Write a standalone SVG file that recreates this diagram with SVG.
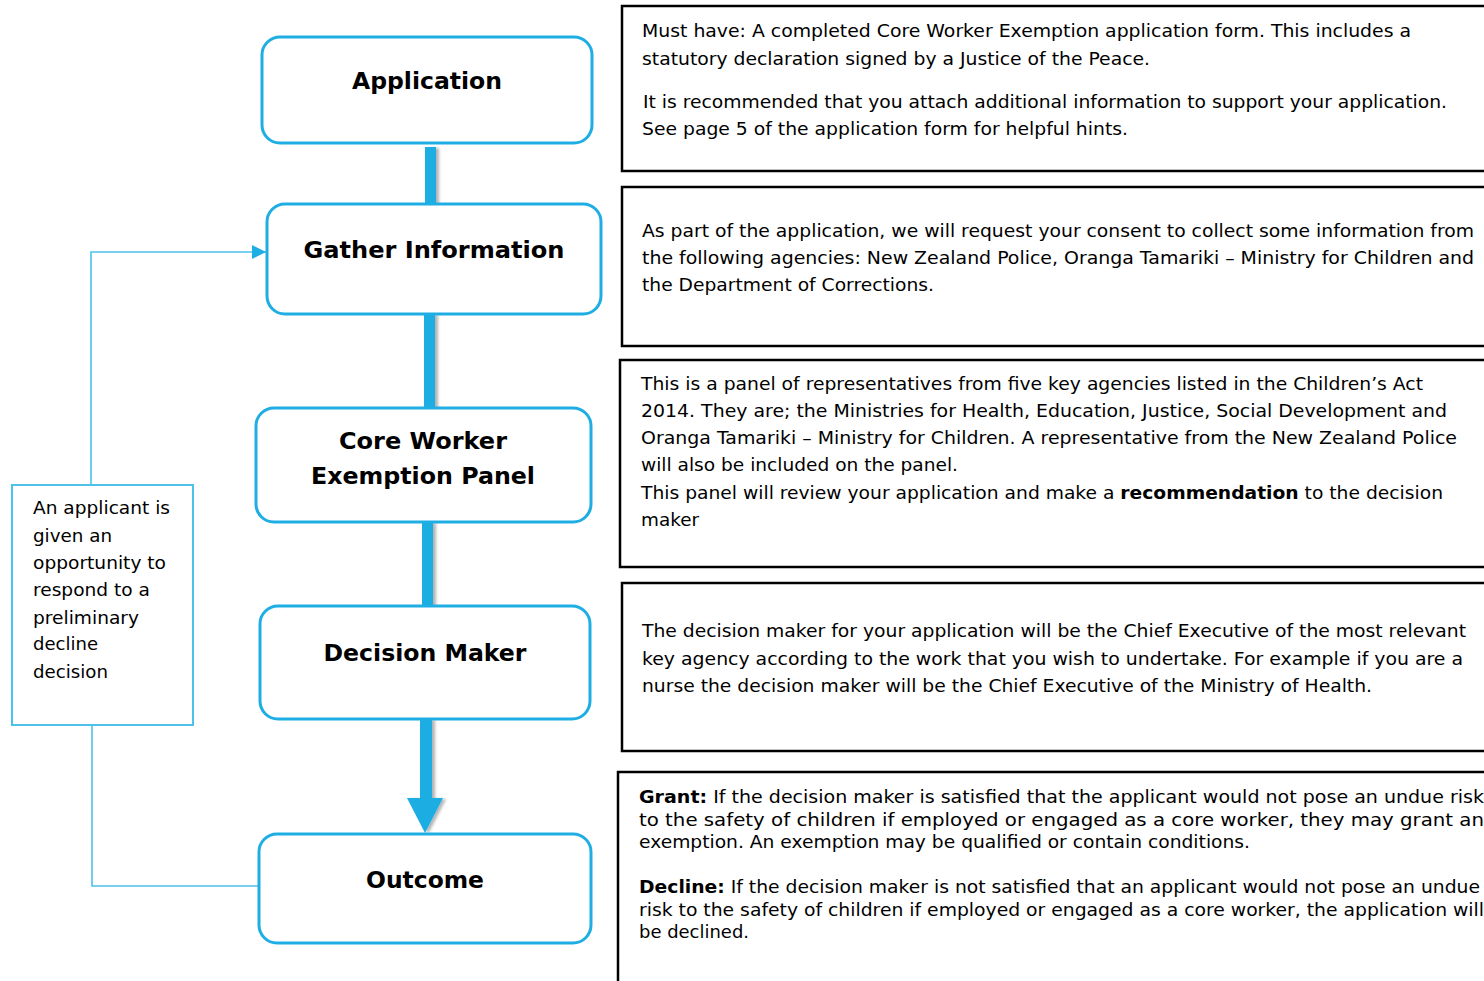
<svg xmlns="http://www.w3.org/2000/svg" width="1484" height="981" viewBox="0 0 1484 981">
<style>
.node{fill:#fff;stroke:#1EAEE3;stroke-width:3}
.title{font-family:"DejaVu Sans","Liberation Sans",sans-serif;font-weight:bold;font-size:23px;fill:#000;text-anchor:middle}
.info{fill:#fff;stroke:#000;stroke-width:2.5}
.t{font-family:"DejaVu Sans","Liberation Sans",sans-serif;font-size:17px;fill:#000}
.b{font-weight:bold}
.thin{fill:none;stroke:#4DC1EA;stroke-width:1.6}
.bar{fill:#1EAEE3}
</style>
<defs>
<filter id="sh" x="-50%" y="-10%" width="200%" height="120%">
<feDropShadow dx="3" dy="1" stdDeviation="1.5" flood-color="#000" flood-opacity="0.3"/>
</filter>
<marker id="ah" viewBox="0 0 10 10" refX="10" refY="5" markerWidth="14" markerHeight="14" markerUnits="userSpaceOnUse" orient="auto">
<path d="M0,0 L10,5 L0,10 z" fill="#1EAEE3"/>
</marker>
</defs>

<g id="connectors">
<g filter="url(#sh)">
<rect class="bar" x="425" y="147" width="11" height="58"/>
<rect class="bar" x="424" y="314" width="11" height="95"/>
<rect class="bar" x="422" y="522" width="11" height="85"/>
<rect class="bar" x="420" y="719" width="12" height="81"/>
<polygon class="bar" points="407,798 443,798 425,833"/>
</g>
<polyline class="thin" points="259,886 92,886 92,725"/>
<polyline class="thin" points="91,485 91,252 266,252" marker-end="url(#ah)"/>
</g>

<g id="node-application">
<rect class="node" x="262" y="37" width="330" height="106" rx="18"/>
<text class="title" x="427" y="89" textLength="150" lengthAdjust="spacingAndGlyphs">Application</text>
</g>
<g id="node-gather">
<rect class="node" x="267" y="204" width="334" height="110" rx="18"/>
<text class="title" x="434" y="258" textLength="261" lengthAdjust="spacingAndGlyphs">Gather Information</text>
</g>
<g id="node-panel">
<rect class="node" x="256" y="408" width="335" height="114" rx="18"/>
<text class="title" x="423" y="449" textLength="168" lengthAdjust="spacingAndGlyphs">Core Worker</text>
<text class="title" x="423" y="484" textLength="224" lengthAdjust="spacingAndGlyphs">Exemption Panel</text>
</g>
<g id="node-decision">
<rect class="node" x="260" y="606" width="330" height="113" rx="18"/>
<text class="title" x="425" y="661" textLength="203" lengthAdjust="spacingAndGlyphs">Decision Maker</text>
</g>
<g id="node-outcome">
<rect class="node" x="259" y="834" width="332" height="109" rx="18"/>
<text class="title" x="425" y="888" textLength="118" lengthAdjust="spacingAndGlyphs">Outcome</text>
</g>

<g id="note-decline">
<rect x="12" y="485" width="181" height="240" fill="#fff" stroke="#4DC1EA" stroke-width="2"/>
<text class="t" x="33" y="514" textLength="137" lengthAdjust="spacingAndGlyphs">An applicant is</text>
<text class="t" x="33" y="542" textLength="79" lengthAdjust="spacingAndGlyphs">given an</text>
<text class="t" x="33" y="569" textLength="133" lengthAdjust="spacingAndGlyphs">opportunity to</text>
<text class="t" x="33" y="596" textLength="117" lengthAdjust="spacingAndGlyphs">respond to a</text>
<text class="t" x="33" y="624" textLength="106" lengthAdjust="spacingAndGlyphs">preliminary</text>
<text class="t" x="33" y="650" textLength="65" lengthAdjust="spacingAndGlyphs">decline</text>
<text class="t" x="33" y="678" textLength="75" lengthAdjust="spacingAndGlyphs">decision</text>
</g>

<g id="info-application">
<rect class="info" x="622" y="6" width="880" height="165"/>
<text class="t" x="642" y="37" textLength="769" lengthAdjust="spacingAndGlyphs">Must have: A completed Core Worker Exemption application form. This includes a</text>
<text class="t" x="642" y="65" textLength="508" lengthAdjust="spacingAndGlyphs">statutory declaration signed by a Justice of the Peace.</text>
<text class="t" x="643" y="108" textLength="804" lengthAdjust="spacingAndGlyphs">It is recommended that you attach additional information to support your application.</text>
<text class="t" x="642" y="135" textLength="486" lengthAdjust="spacingAndGlyphs">See page 5 of the application form for helpful hints.</text>
</g>

<g id="info-gather">
<rect class="info" x="622" y="187" width="880" height="159"/>
<text class="t" x="642" y="237" textLength="832" lengthAdjust="spacingAndGlyphs">As part of the application, we will request your consent to collect some information from</text>
<text class="t" x="642" y="264" textLength="832" lengthAdjust="spacingAndGlyphs">the following agencies:  New Zealand Police, Oranga Tamariki – Ministry for Children and</text>
<text class="t" x="642" y="291" textLength="292" lengthAdjust="spacingAndGlyphs">the Department of Corrections.</text>
</g>

<g id="info-panel">
<rect class="info" x="620" y="360" width="882" height="207"/>
<text class="t" x="641" y="390" textLength="782" lengthAdjust="spacingAndGlyphs">This is a panel of representatives from five key agencies listed in the Children’s Act</text>
<text class="t" x="641" y="417" textLength="806" lengthAdjust="spacingAndGlyphs">2014. They are;  the Ministries for Health, Education, Justice, Social Development and</text>
<text class="t" x="641" y="444" textLength="816" lengthAdjust="spacingAndGlyphs">Oranga Tamariki – Ministry for Children. A representative from the New Zealand Police</text>
<text class="t" x="641" y="471" textLength="317" lengthAdjust="spacingAndGlyphs">will also be included on the panel.</text>
<text class="t" x="641" y="499" textLength="802" lengthAdjust="spacingAndGlyphs">This panel will review your application and make a <tspan class="b">recommendation</tspan> to the decision</text>
<text class="t" x="641" y="526" textLength="58" lengthAdjust="spacingAndGlyphs">maker</text>
</g>

<g id="info-decision">
<rect class="info" x="622" y="583" width="880" height="168"/>
<text class="t" x="642" y="637" textLength="824" lengthAdjust="spacingAndGlyphs">The decision maker for your application will be the Chief Executive of the most relevant</text>
<text class="t" x="642" y="665" textLength="821" lengthAdjust="spacingAndGlyphs">key agency according to the work that you wish to undertake. For example if you are a</text>
<text class="t" x="642" y="692" textLength="730" lengthAdjust="spacingAndGlyphs">nurse the decision maker will be the Chief Executive of the Ministry of Health.</text>
</g>

<g id="info-outcome">
<rect class="info" x="618" y="772" width="884" height="230"/>
<text class="t" x="639" y="803" textLength="845" lengthAdjust="spacingAndGlyphs"><tspan class="b">Grant:</tspan> If the decision maker is satisfied that the applicant would not pose an undue risk</text>
<text class="t" x="639" y="826" textLength="845" lengthAdjust="spacingAndGlyphs">to the safety of children if employed or engaged as a core worker, they may grant an</text>
<text class="t" x="639" y="848" textLength="611" lengthAdjust="spacingAndGlyphs">exemption. An exemption may be qualified or contain conditions.</text>
<text class="t" x="639" y="893" textLength="841" lengthAdjust="spacingAndGlyphs"><tspan class="b">Decline:</tspan> If the decision maker is not satisfied that an applicant would not pose an undue</text>
<text class="t" x="639" y="916" textLength="845" lengthAdjust="spacingAndGlyphs">risk to the safety of children if employed or engaged as a core worker, the application will</text>
<text class="t" x="639" y="938" textLength="110" lengthAdjust="spacingAndGlyphs">be declined.</text>
</g>
</svg>
